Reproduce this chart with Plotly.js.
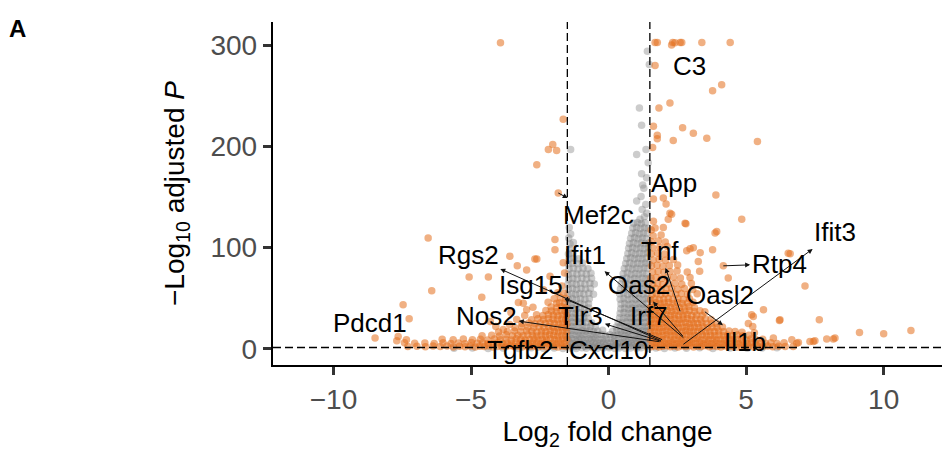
<!DOCTYPE html>
<html>
<head>
<meta charset="utf-8">
<script src="https://cdn.plot.ly/plotly-3.0.1.min.js"></script>
<style>html,body{margin:0;padding:0;background:#fff;}#chart{width:942px;height:454px;}</style>
</head>
<body>
<div id="chart"></div>
<script>
// ---- Data: [log2 fold change, -log10 adjusted P] ----
const grayBottom = [[-5.62,0.5],[-4.95,0.9],[-4.38,0.4],[-3.84,0.8],[-3.27,0.3],[-2.81,1.0],[-2.37,0.6],[-1.98,0.9],[-1.66,0.4],[-1.41,0.8],[-1.18,0.3],[-0.97,1.0],[-0.81,0.5],[-0.58,0.9],[-0.42,0.4],[-0.19,0.7],[0.02,1.0],[0.23,0.4],[0.38,0.8],[0.61,0.3],[0.79,0.9],[1.02,0.5],[1.18,1.0],[1.43,0.4],[1.72,0.8],[2.03,0.3],[2.41,0.9],[2.83,0.5],[3.31,1.0],[3.79,0.4],[4.42,0.8],[5.04,0.5],[5.58,0.9],[6.12,1.1]];

const grayLow = [
[-1.47,2.6],[-1.36,3.1],[-1.24,2.2],[-1.11,2.9],[-0.99,3.4],[-0.86,2.5],[-0.74,3.0],[-0.61,2.3],[-0.49,3.3],[-0.37,2.7],[-0.24,2.1],[-0.12,3.2],[0.01,2.4],[0.13,2.9],[0.26,3.5],[0.38,2.2],[0.51,2.8],[0.63,3.3],[0.76,2.5],[0.88,3.1],[1.01,2.3],[1.13,2.9],[1.26,3.4],[1.39,2.6],
[-1.42,6.2],[-1.3,5.6],[-1.17,6.6],[-1.05,5.8],[-0.92,6.4],[-0.8,5.5],[-0.67,6.7],[-0.55,5.9],[-0.42,6.3],[-0.3,5.7],[-0.18,6.5],[-0.05,5.8],[0.07,6.1],[0.2,6.8],[0.32,5.6],[0.45,6.3],[0.57,5.9],[0.7,6.6],[0.82,5.7],[0.95,6.2],[1.07,6.8],[1.2,5.8],[1.32,6.4],[1.45,6.0],
[-1.48,9.4],[-1.35,10.1],[-1.23,9.0],[-1.1,9.8],[-0.98,10.3],[-0.85,9.2],[-0.72,9.9],[-0.6,9.5],[-0.47,10.4],[-0.33,9.1],[-0.2,9.7],[-0.07,9.8],[0.08,10.2],[0.22,9.6],[0.35,10.2],[0.48,9.3],[0.6,9.9],[0.73,10.5],[0.85,9.2],[0.98,9.8],[1.1,10.3],[1.23,9.4],[1.36,10.0],[1.47,9.6],
[-1.45,13.2],[-1.32,14.0],[-1.19,13.5],[-1.06,12.9],[-0.93,13.8],[-0.8,13.3],[-0.67,14.2],[-0.54,13.0],[-0.41,13.7],[-0.27,14.1],[-0.12,13.4],[0.05,13.9],[0.2,13.1],[0.34,13.8],[0.47,14.3],[0.6,13.2],[0.73,13.9],[0.86,13.4],[0.99,14.1],[1.12,13.0],[1.25,13.7],[1.38,14.2],
[-1.48,17.2],[-1.35,18.0],[-1.22,17.5],[-1.09,16.9],[-0.96,17.8],[-0.83,17.3],[-0.69,18.1],[-0.55,17.0],[-0.4,17.7],[-0.22,18.3],[0.15,17.4],[0.3,18.1],[0.44,17.1],[0.58,17.9],[0.71,17.3],[0.84,18.2],[0.97,17.5],[1.1,17.0],[1.23,17.8],[1.36,17.4],[1.47,18.0],
[-1.46,21.3],[-1.33,22.0],[-1.2,21.5],[-1.07,21.0],[-0.94,21.9],[-0.8,21.4],[-0.65,22.1],[-0.48,21.2],[0.28,21.6],[0.42,22.2],[0.56,21.1],[0.69,21.8],[0.82,21.4],[0.95,22.3],[1.08,21.2],[1.21,21.9],[1.34,21.5],[1.45,22.0],
[-1.48,25.6],[-1.35,26.4],[-1.22,25.9],[-1.09,26.6],[-0.95,25.8],[-0.8,26.2],[-0.62,25.7],[0.35,26.1],[0.5,25.5],[0.64,26.4],[0.77,25.9],[0.9,26.6],[1.03,25.7],[1.16,26.3],[1.29,25.8],[1.42,26.5],
[-1.45,30.2],[-1.32,31.0],[-1.19,30.5],[-1.05,29.9],[-0.9,30.8],[-0.74,30.3],[0.4,30.6],[0.54,30.1],[0.67,31.0],[0.8,30.4],[0.93,29.9],[1.06,30.8],[1.19,30.3],[1.32,31.1],[1.45,30.5],
[-1.48,34.8],[-1.34,35.5],[-1.2,34.9],[-1.06,35.7],[-0.91,35.1],[-0.76,35.6],[0.42,35.2],[0.56,35.9],[0.7,34.8],[0.83,35.5],[0.96,35.1],[1.09,35.8],[1.22,34.9],[1.35,35.6],[1.47,35.2],
[-1.46,39.2],[-1.32,40.0],[-1.18,39.4],[-1.03,40.1],[-0.88,39.6],[-0.72,40.3],[0.44,39.7],[0.58,40.2],[0.72,39.3],[0.85,40.0],[0.98,39.5],[1.11,40.3],[1.24,39.6],[1.37,40.1],[1.48,39.4]];

const grayHigh = [
[-1.47,43.8],[-1.33,44.5],[-1.19,43.9],[-1.04,44.7],[-0.89,44.1],[-0.73,44.6],[0.45,44.2],[0.59,44.8],[0.73,43.9],[0.86,44.5],[0.99,44.0],[1.12,44.8],[1.25,44.1],[1.38,44.6],
[-1.45,48.6],[-1.31,49.4],[-1.17,48.9],[-1.02,49.6],[-0.86,49.0],[-0.7,49.5],[0.42,49.1],[0.56,49.7],[0.7,48.8],[0.84,49.4],[0.97,48.9],[1.1,49.8],[1.23,49.0],[1.36,49.5],[1.47,49.2],
[-1.48,53.7],[-1.34,54.5],[-1.2,53.9],[-1.05,54.6],[-0.9,54.1],[-0.72,54.8],[-0.55,54.0],[0.4,54.3],[0.55,54.9],[0.69,53.8],[0.83,54.5],[0.97,54.0],[1.11,54.7],[1.25,54.2],[1.39,54.8],
[-1.46,58.8],[-1.31,59.5],[-1.16,58.9],[-1.0,59.7],[-0.84,59.1],[-0.66,59.6],[0.43,59.2],[0.58,59.9],[0.72,58.8],[0.86,59.5],[1.0,59.0],[1.14,59.8],[1.28,59.2],[1.42,59.7],
[-1.48,63.7],[-1.33,64.5],[-1.18,63.9],[-1.02,64.6],[-0.86,64.0],[-0.68,64.7],[-0.52,64.1],[0.46,64.3],[0.61,64.9],[0.75,63.8],[0.89,64.5],[1.03,64.0],[1.17,64.8],[1.31,64.2],[1.45,64.7],
[-1.45,68.8],[-1.3,69.6],[-1.14,69.0],[-0.97,69.7],[-0.8,69.1],[-0.62,69.8],[0.5,69.2],[0.65,69.9],[0.79,68.8],[0.93,69.5],[1.07,69.0],[1.21,69.8],[1.35,69.3],[1.47,69.9],
[-1.47,73.7],[-1.31,74.5],[-1.15,73.9],[-0.98,74.6],[-0.81,74.0],[-0.64,74.7],[0.53,74.2],[0.68,74.9],[0.82,73.8],[0.96,74.5],[1.1,74.0],[1.24,74.8],[1.38,74.2],
[-1.44,78.8],[-1.28,79.6],[-1.11,79.0],[-0.93,79.7],[-0.75,79.1],[0.57,79.3],[0.72,79.9],[0.86,78.9],[1.0,79.6],[1.14,79.0],[1.28,79.8],[1.42,79.3],
[-1.47,83.8],[-1.3,84.6],[-1.13,84.0],[-0.95,84.7],[0.62,84.2],[0.77,84.9],[0.91,83.8],[1.05,84.5],[1.19,84.0],[1.33,84.8],[1.46,84.3],
[-1.44,88.8],[-1.27,89.6],[-1.1,89.1],[0.66,89.3],[0.8,89.9],[0.94,88.9],[1.08,89.6],[1.22,89.0],[1.36,89.8],
[-1.46,93.8],[-1.3,94.6],[0.7,94.2],[0.84,94.9],[0.98,93.8],[1.12,94.5],[1.26,94.0],[1.4,94.8],
[-1.42,99.2],[0.73,99.3],[0.87,99.9],[1.01,98.9],[1.15,99.6],[1.29,99.0],[1.43,99.8],
[-1.4,103.6],[-1.28,105.0],[0.76,104.2],[0.9,104.9],[1.04,103.8],[1.18,104.5],[1.32,104.0],[1.46,104.6],
[-1.45,109.5],[0.8,109.3],[0.94,109.8],[1.08,108.9],[1.22,109.6],[1.36,109.1],
[-1.38,113.5],[0.84,114.2],[0.98,114.8],[1.12,113.8],[1.26,114.5],[1.4,114.0],
[-1.43,119.8],[0.88,119.3],[1.02,119.9],[1.16,118.9],[1.3,119.6],[1.44,119.1],
[0.91,124.2],[1.05,124.8],[1.19,123.8],[1.33,124.5],
[1.14,128.0],[1.3,130.5],[1.39,134.0],[1.22,137.8],[1.35,142.6],[1.02,146.0],[1.18,150.5],[1.28,158.6],[1.24,162.0],[1.2,173.0],[1.38,169.0],[1.44,184.0],[1.02,192.0],[1.36,197.0],[1.12,238.0],[1.2,221.0],[1.41,294.0],[1.48,281.0],[-1.38,197.0]];

const upLow = [
[1.55,2.1],[1.69,2.8],[1.83,1.9],[1.97,2.6],[2.11,3.1],[2.24,2.0],[2.39,2.7],[2.53,1.8],[2.67,2.9],[2.81,2.3],[2.95,3.0],[3.09,1.9],[3.23,2.6],[3.37,2.2],[3.51,3.1],[3.66,2.0],[3.8,2.7],[3.94,2.3],[4.08,1.8],[4.23,2.9],[4.37,2.2],[4.52,2.6],[4.66,1.9],[4.81,2.8],[4.95,2.1],[5.1,2.5],[5.26,1.9],[5.42,2.7],[5.6,2.2],[5.78,2.9],[5.97,2.0],[6.18,2.6],[6.42,2.2],[6.71,2.4],
[1.6,5.4],[1.74,6.0],[1.89,5.1],[2.03,5.8],[2.17,5.3],[2.31,6.2],[2.46,5.0],[2.6,5.7],[2.74,6.1],[2.88,5.2],[3.02,5.9],[3.16,5.4],[3.3,6.3],[3.44,5.1],[3.59,5.8],[3.73,5.3],[3.87,6.0],[4.01,5.5],[4.15,5.0],[4.3,5.9],[4.44,5.4],[4.59,6.2],[4.73,5.1],[4.88,5.7],[5.03,5.3],[5.19,6.0],[5.35,5.2],[5.52,5.8],[5.7,5.4],[5.9,6.1],[6.12,5.3],[6.38,5.9],[6.84,5.6],[6.9,6.3],[7.32,7.2],[7.5,7.9],[7.44,7.2],
[1.52,8.9],[1.67,9.6],[1.81,8.6],[1.95,9.3],[2.09,9.9],[2.24,8.8],[2.38,9.5],[2.52,8.7],[2.66,9.8],[2.8,9.1],[2.94,8.6],[3.08,9.4],[3.22,9.9],[3.36,8.8],[3.5,9.5],[3.64,9.0],[3.79,9.7],[3.93,8.7],[4.08,9.4],[4.22,9.0],[4.37,9.8],[4.52,8.9],[4.68,9.5],[4.84,9.1],[5.0,8.8],[5.17,9.6],[5.36,9.0],[5.6,9.4],[5.99,10.6],[6.66,8.9],[7.93,9.6],[8.17,9.6],[8.23,10.6],
[1.56,12.8],[1.7,13.5],[1.84,12.6],[1.98,13.3],[2.12,13.9],[2.27,12.9],[2.41,13.6],[2.55,12.7],[2.69,13.4],[2.84,13.9],[2.98,12.8],[3.12,13.5],[3.27,13.0],[3.41,13.8],[3.56,12.7],[3.71,13.4],[3.86,13.0],[4.01,13.7],[4.17,12.8],[4.33,13.5],[4.5,13.0],[4.68,13.6],[4.88,12.9],[5.1,13.4],[9.12,16.0],[10.0,14.8],[10.99,18.0],
[1.53,16.8],[1.67,17.5],[1.81,16.6],[1.95,17.3],[2.09,17.8],[2.23,16.9],[2.37,17.6],[2.51,16.7],[2.66,17.4],[2.8,17.9],[2.94,16.8],[3.08,17.5],[3.23,17.0],[3.38,17.7],[3.53,16.8],[3.68,17.4],[3.84,17.0],[4.0,17.6],[4.18,16.9],[4.38,17.5],[4.6,17.2],[4.85,16.4],[5.3,15.9],
[1.57,20.8],[1.71,21.5],[1.85,20.6],[1.99,21.3],[2.13,21.8],[2.27,20.9],[2.41,21.6],[2.55,20.7],[2.7,21.4],[2.84,21.9],[2.98,20.8],[3.13,21.5],[3.28,21.0],[3.43,21.7],[3.59,20.8],[3.76,21.4],[3.94,21.0],[4.14,21.5],[5.24,22.0],
[1.52,24.8],[1.66,25.5],[1.8,24.6],[1.94,25.3],[2.08,25.8],[2.22,24.9],[2.36,25.6],[2.5,24.7],[2.64,25.4],[2.79,25.9],[2.93,24.8],[3.08,25.5],[3.23,25.0],[3.39,25.7],[3.56,24.8],[3.74,25.3],[3.93,24.9],[5.08,25.0]];

const upMid = [
[1.56,28.8],[1.7,29.5],[1.84,28.6],[1.98,29.3],[2.12,29.8],[2.26,28.9],[2.41,29.6],[2.56,28.7],[2.71,29.4],[2.86,29.9],[3.01,28.8],[3.17,29.5],[3.34,29.0],[3.52,29.6],[3.72,28.9],[6.23,28.7],[7.66,28.7],[6.21,28.0],
[1.53,32.8],[1.67,33.5],[1.81,32.6],[1.95,33.3],[2.09,33.8],[2.24,32.9],[2.39,33.6],[2.54,32.7],[2.7,33.4],[2.86,33.9],[3.02,32.8],[3.2,33.5],[3.4,33.0],[5.26,32.0],[5.2,33.7],
[1.58,36.8],[1.72,37.5],[1.86,36.6],[2.0,37.3],[2.15,37.8],[2.3,36.9],[2.45,37.6],[2.61,36.7],[2.77,37.4],[2.94,37.9],[3.12,36.8],[3.32,37.5],[3.5,36.6],[5.63,38.6],
[1.52,40.8],[1.66,41.5],[1.8,40.6],[1.95,41.3],[2.1,41.8],[2.25,40.9],[2.41,41.6],[2.57,40.7],[2.74,41.4],[2.92,41.9],[3.12,40.8],
[1.57,44.8],[1.72,45.5],[1.87,44.6],[2.02,45.3],[2.18,45.8],[2.34,44.9],[2.51,45.6],[2.68,44.7],[2.87,45.4],[3.07,45.9],
[1.53,48.8],[1.68,49.5],[1.84,48.6],[2.0,49.3],[2.17,49.8],[2.34,48.9],[2.52,49.6],[2.72,48.7],[2.94,49.4],
[1.58,53.8],[1.74,54.5],[1.9,53.6],[2.07,54.3],[2.25,54.8],[2.44,53.9],[2.64,54.6],[2.87,53.7],[3.22,54.4],
[1.55,58.8],[1.72,59.5],[1.9,58.6],[2.09,59.3],[2.29,59.8],[2.51,58.9],[2.76,59.6],[3.06,58.7],
[1.6,63.8],[1.78,64.5],[1.97,63.6],[2.18,64.3],[2.41,64.8],[2.66,63.9],[3.01,64.6],[7.14,62.0],
[1.54,69.8],[1.73,70.5],[1.93,69.6],[2.13,70.3],[2.36,70.8],[2.61,69.9],[2.96,70.6],[4.35,70.0],
[1.6,75.8],[1.8,76.5],[2.01,75.6],[2.23,76.3],[2.49,76.8],[2.86,75.9],[3.31,76.6],
[1.56,81.8],[1.76,82.5],[1.97,81.6],[2.21,82.3],[2.51,82.8],[4.17,82.0],
[1.62,87.8],[1.84,88.5],[2.07,87.6],[2.36,88.3],[3.26,86.4],
[1.55,93.8],[1.78,94.5],[2.03,93.6],[2.84,97.0],[3.08,100.0],[3.78,98.0],[2.96,99.0],[3.33,95.0],[6.6,94.0],[6.53,94.5]];

const upHigh = [
[1.6,99.8],[1.86,100.5],[2.13,101.0],[1.56,105.8],[1.81,106.5],[2.06,105.6],[1.62,111.8],[1.91,112.5],[3.87,114.5],[1.55,117.5],[1.69,119.5],[1.99,120.0],[3.93,116.0],[1.63,126.0],[2.78,124.0],[2.81,123.5],
[2.17,128.0],[2.29,133.0],[2.23,134.0],[2.09,143.0],[1.63,148.0],[1.99,149.0],[3.9,152.0],[4.84,128.0],[1.6,199.0],[1.77,211.0],[1.77,207.6],[2.35,206.0],[3.57,208.0],[5.41,205.0],[3.08,213.0],[2.69,218.5],[1.63,220.0],[1.83,238.0],[2.23,243.0],[3.78,255.0],[4.11,261.0],[1.69,280.0],
[1.69,302.7],[1.77,302.7],[2.33,302.7],[2.41,302.5],[2.6,302.7],[2.66,302.7],[3.39,302.7],[4.42,302.7],[2.29,300.2]];

const downLow = [
[-1.55,2.2],[-1.69,2.8],[-1.84,1.9],[-1.98,2.6],[-2.13,3.0],[-2.27,2.0],[-2.42,2.7],[-2.56,1.8],[-2.71,2.9],[-2.85,2.3],[-3.0,3.0],[-3.14,1.9],[-3.29,2.6],[-3.44,2.2],[-3.59,3.1],[-3.74,2.0],[-3.89,2.7],[-4.04,2.3],[-4.2,1.8],[-4.36,2.9],[-4.52,2.2],[-4.68,2.6],[-4.85,1.9],[-5.03,2.8],[-5.22,2.1],[-5.42,2.5],[-5.64,1.9],[-5.87,2.7],[-6.12,2.2],[-6.38,2.9],[-6.66,2.0],[-6.97,2.6],[-7.3,2.3],
[-1.6,5.4],[-1.74,6.0],[-1.89,5.1],[-2.03,5.8],[-2.18,5.3],[-2.32,6.2],[-2.47,5.0],[-2.62,5.7],[-2.77,6.1],[-2.92,5.2],[-3.07,5.9],[-3.22,5.4],[-3.37,6.3],[-3.53,5.1],[-3.69,5.8],[-3.85,5.3],[-4.02,6.0],[-4.2,5.5],[-4.39,5.0],[-4.58,5.9],[-4.78,5.4],[-4.99,6.2],[-5.22,5.1],[-5.46,5.7],[-5.73,5.3],[-6.02,6.0],[-6.34,5.2],[-6.68,5.8],[-7.05,5.4],[-7.42,6.1],[-7.7,8.0],
[-1.52,8.9],[-1.67,9.6],[-1.82,8.6],[-1.96,9.3],[-2.11,9.9],[-2.26,8.8],[-2.41,9.5],[-2.56,8.7],[-2.71,9.8],[-2.87,9.1],[-3.03,8.6],[-3.19,9.4],[-3.36,9.9],[-3.54,8.8],[-3.73,9.5],[-3.93,9.0],[-4.15,9.7],[-4.4,8.7],[-4.66,9.4],[-4.95,9.0],[-5.28,9.8],[-5.65,8.9],[-6.05,9.5],[-7.65,12.2],[-8.49,10.6],[-7.35,9.0],
[-1.56,12.8],[-1.7,13.5],[-1.85,12.6],[-2.0,13.3],[-2.15,13.9],[-2.3,12.9],[-2.45,13.6],[-2.61,12.7],[-2.77,13.4],[-2.94,13.9],[-3.11,12.8],[-3.3,13.5],[-3.5,13.0],[-3.72,13.8],[-3.97,12.7],[-4.25,13.4],[-4.6,13.0],
[-1.53,16.8],[-1.67,17.5],[-1.82,16.6],[-1.97,17.3],[-2.12,17.8],[-2.28,16.9],[-2.44,17.6],[-2.61,16.7],[-2.79,17.4],[-2.98,17.9],[-3.19,16.8],[-3.42,17.5],[-3.68,17.0],[-4.0,16.5],[-3.83,19.0]];

const downMid = [
[-1.57,20.8],[-1.71,21.5],[-1.86,20.6],[-2.02,21.3],[-2.18,21.8],[-2.35,20.9],[-2.53,21.6],[-2.72,20.7],[-2.93,21.4],[-3.16,21.9],[-3.4,20.8],[-4.1,22.0],
[-1.52,24.8],[-1.66,25.5],[-1.81,24.6],[-1.97,25.3],[-2.13,25.8],[-2.3,24.9],[-2.48,25.6],[-2.68,24.7],[-2.9,25.4],[-3.15,25.0],[-3.6,24.0],[-4.3,27.0],
[-1.56,28.8],[-1.7,29.5],[-1.86,28.6],[-2.02,29.3],[-2.19,29.8],[-2.37,28.9],[-2.57,29.6],[-2.8,28.7],[-3.34,29.0],[-7.25,29.7],
[-1.53,32.8],[-1.68,33.5],[-1.84,32.6],[-2.01,33.3],[-2.19,33.8],[-2.39,32.9],[-2.62,33.6],[-3.05,33.0],
[-1.58,36.8],[-1.73,37.5],[-1.9,36.6],[-2.08,37.3],[-2.28,37.8],[-2.98,38.6],[-3.55,36.0],
[-1.55,40.8],[-1.71,41.5],[-1.89,40.6],[-2.09,41.3],[-2.75,41.0],[-7.47,43.6],
[-1.6,44.8],[-1.78,45.5],[-1.89,45.0],[-3.1,45.0],[-3.28,45.8],[-2.2,46.0],[-1.56,49.8],[-1.75,50.5],[-1.98,49.6],[-4.61,51.0],[-1.62,54.8],[-1.85,55.5],[-6.43,57.4],[-2.37,58.4]];

const downHigh = [
[-1.7,62.0],[-2.13,71.6],[-5.07,71.0],[-4.37,71.0],[-1.6,75.0],[-2.98,78.0],[-3.32,82.0],[-2.68,88.8],[-2.61,88.8],[-3.59,91.4],[-1.95,98.0],[-1.95,108.0],[-6.56,109.6],[-1.65,85.0],
[-1.83,154.0],[-1.65,227.0],[-2.03,202.0],[-2.19,197.0],[-1.89,196.0],[-2.61,182.0],[-3.93,302.6]];

// ---- labelled genes ----
const geneNames  = ['C3','App','Mef2c','Rgs2','Ifit1','Tnf','Ifit3','Rtp4','Isg15','Oas2','Oasl2','Nos2','Tlr3','Irf7','Il1b','Pdcd1','Tgfb2','Cxcl10'];
const geneLFC    = [2.41, 1.2, -1.83, 1.9, 2.72, 2.6, 2.72, 4.17, 1.95, 2.7, 3.3, 1.85, 1.9, 1.6, 3.5, -7.47, -3.2, 0.1];
const geneNegLogP= [302.5, 173, 154, 8, 11, 37, 4.5, 82, 9, 12.5, 45, 7, 7.5, 30, 36.6, 43.6, 2, 2];

const xTicks = [-10, -5, 0, 5, 10];
const yTicks = [0, 100, 200, 300];
const lfcCut = 1.5;
const padjCut = 1.3;

// ---- label placement (layout, not data) ----
const labelPos = {
  C3:[2.93,279.5,false], App:[2.38,164,false], Mef2c:[-0.37,132.7,true], Rgs2:[-5.1,93,true],
  Ifit1:[-0.86,93,true], Tnf:[1.87,96.3,true], Ifit3:[8.23,115,true], Rtp4:[6.2,84,true],
  Isg15:[-2.83,63.4,true], Oas2:[1.1,63,true], Oasl2:[4.05,53.5,false], Nos2:[-4.43,32,true],
  Tlr3:[-1.01,32,true], Irf7:[1.47,32,false], Il1b:[4.96,7,true], Pdcd1:[-8.68,26,false],
  Tgfb2:[-3.2,-1,false], Cxcl10:[0.01,-1,false]
};

const FONT = 'Liberation Sans, Arial, Helvetica, sans-serif';
const grayAll = grayBottom.concat(grayLow, grayHigh);
const orangeAll = downLow.concat(downMid, downHigh, upLow, upMid, upHigh);

const traces = [
  {type:'scatter', mode:'markers', x:grayAll.map(p=>p[0]), y:grayAll.map(p=>p[1]),
   marker:{color:'rgb(128,128,128)', size:7.5, opacity:0.4, line:{width:0}}, hoverinfo:'skip'},
  {type:'scatter', mode:'markers', x:orangeAll.map(p=>p[0]), y:orangeAll.map(p=>p[1]),
   marker:{color:'rgb(228,112,30)', size:7.5, opacity:0.55, line:{width:0}}, hoverinfo:'skip'}
];

const annotations = [];
geneNames.forEach((g,i)=>{
  const lp = labelPos[g];
  if (lp[2]) {
    annotations.push({x:geneLFC[i], y:geneNegLogP[i], xref:'x', yref:'y', axref:'x', ayref:'y',
      ax:lp[0], ay:lp[1], text:g, showarrow:true, arrowside:'start', startarrowhead:2,
      startarrowsize:1, arrowwidth:1, arrowcolor:'#111', standoff:0, startstandoff:0,
      font:{family:FONT, size:26, color:'#000'}});
  } else {
    annotations.push({x:lp[0], y:lp[1], xref:'x', yref:'y', text:g, showarrow:false,
      xanchor:'center', yanchor:'middle', font:{family:FONT, size:26, color:'#000'}});
  }
});
annotations.push({x:-11.33, y:325.5, xref:'x', yref:'y', text:'309 genes', showarrow:false,
  xanchor:'left', yanchor:'middle', font:{family:FONT, size:27, color:'#000'}});
annotations.push({x:11.32, y:325.5, xref:'x', yref:'y', text:'466 genes', showarrow:false,
  xanchor:'right', yanchor:'middle', font:{family:FONT, size:27, color:'#000'}});
annotations.push({x:-0.382, y:0.9825, xref:'paper', yref:'paper', text:'<b>A</b>', showarrow:false,
  xanchor:'center', yanchor:'middle', font:{family:FONT, size:24, color:'#000'}});

const dashLine = {color:'#000', width:1.3, dash:'8px,4px'};
const shapes = [
  {type:'line', xref:'x', yref:'paper', x0:-lfcCut, x1:-lfcCut, y0:0, y1:1, line:dashLine},
  {type:'line', xref:'x', yref:'paper', x0:lfcCut, x1:lfcCut, y0:0, y1:1, line:dashLine},
  {type:'line', xref:'paper', yref:'y', x0:0, x1:1, y0:padjCut, y1:padjCut, line:dashLine}
];

const axisCommon = {showgrid:false, zeroline:false, showline:true, linecolor:'#000', linewidth:2.2,
  ticks:'outside', ticklen:8, tickwidth:3, tickcolor:'#333', tickmode:'array',
  tickfont:{family:FONT, size:28, color:'#4d4d4d'}};

const layout = {
  width:942, height:454, margin:{l:273, r:0, t:22, b:89, pad:0},
  paper_bgcolor:'#fff', plot_bgcolor:'#fff', showlegend:false,
  font:{family:FONT},
  xaxis:Object.assign({}, axisCommon, {range:[-12.2,12.12], tickvals:xTicks,
    title:{text:'Log<sub>2</sub> fold change', font:{family:FONT, size:28, color:'#000'}, standoff:8}}),
  yaxis:Object.assign({}, axisCommon, {range:[-16,323], tickvals:yTicks,
    title:{text:'\u2212Log<sub>10</sub> adjusted <i>P</i>', font:{family:FONT, size:28, color:'#000'}, standoff:18}}),
  annotations:annotations, shapes:shapes
};

Plotly.newPlot('chart', traces, layout, {staticPlot:true, displayModeBar:false});
</script>
</body>
</html>
